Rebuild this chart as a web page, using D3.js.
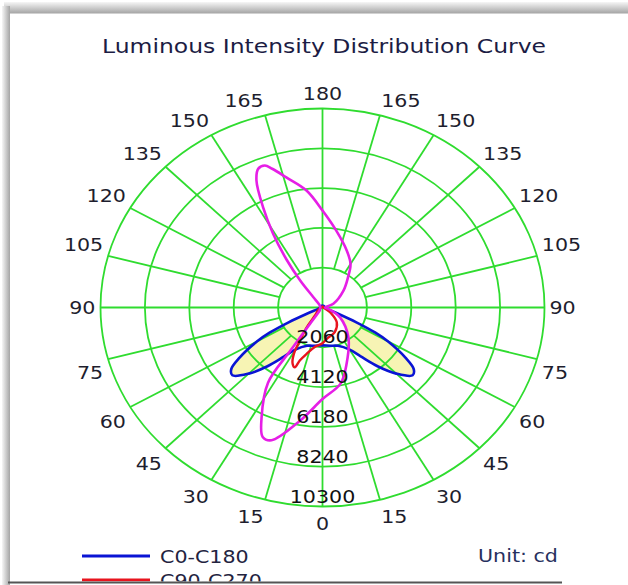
<!DOCTYPE html>
<html>
<head>
<meta charset="utf-8">
<script src="https://cdn.jsdelivr.net/npm/d3@7"></script>
<style>
  html, body { margin: 0; padding: 0; background: #fff; }
  svg { display: block; }
  text { font-family: "DejaVu Sans", Verdana, sans-serif; }
</style>
</head>
<body>
<svg id="chart" width="628" height="585"></svg>
<script>
// ---- data (intensities in cd) ----
const chartTitle = "Luminous Intensity Distribution Curve";
const unitLabel = "Unit: cd";
const ringValues = [2060, 4120, 6180, 8240, 10300];
const angleTicks = [0, 15, 30, 45, 60, 75, 90, 105, 120, 135, 150, 165, 180];

// C0-C180 plane: symmetric, gamma measured from nadir on each half
const c0Gamma  = [0, 10, 20, 30, 35, 40, 45, 50, 53, 56, 60, 62, 64, 66, 68, 72, 90, 120, 150, 180];
const c0Values = [1960, 2010, 2110, 2520, 3090, 3970, 4840, 5460, 5300, 4640, 3500, 2780, 1750, 820, 360, 150, 100, 100, 100, 100];

// C90-C270 plane: full turn, 0 = nadir, increasing towards the right half
const c90Angles = [0, 7, 24, 41, 52, 60, 90, 180, 270, 300, 320, 324.5, 328.5, 331, 334.5, 337.5, 339, 343, 350];
const c90Values = [1850, 1630, 1400, 1010, 540, 210, 50, 50, 50, 210, 540, 1260, 2000, 2740, 3220, 3350, 2940, 2510, 2080];

// Third plane (magenta trace), full turn
const c45Angles = [0, 12, 21, 38, 58, 75, 90, 111, 132, 143, 150, 159, 171, 180, 187, 194, 198, 200, 202.5, 205, 208, 211, 214, 216.5, 218.5, 225, 270, 320, 324, 325.5, 326.3, 327, 333.5, 337.5, 341, 350];
const c45Values = [4740, 4030, 3120, 1950, 960, 310, 120, 540, 1310, 1970, 2600, 3150, 4040, 5020, 6100, 6940, 7550, 7820, 7780, 7250, 5870, 4440, 2950, 1740, 680, 210, 100, 210, 410, 1030, 2680, 4640, 6330, 7250, 7270, 5940];

const legendItems = [
  { name: "C0-C180", color: "#0a14d4" },
  { name: "C90-C270", color: "#e8141e" }
];

// ---- layout ----
const svg = d3.select("#chart");
const cx = 322.5, cy = 307.5, rxMax = 222, ryMax = 199;
const stretch = rxMax / ryMax;
const fontFamily = '"DejaVu Sans", Verdana, sans-serif';

const rX = d3.scaleLinear().domain([0, d3.max(ringValues)]).range([0, rxMax]);
const rY = d3.scaleLinear().domain([0, d3.max(ringValues)]).range([0, ryMax]);
const toPoint = (deg, v) => {
  const t = deg * Math.PI / 180;
  return [cx + rX(v) * Math.sin(t), cy + rY(v) * Math.cos(t)];
};
const closedLine = d3.line().curve(d3.curveCatmullRomClosed.alpha(0.5));

// polygons
const c0Points = c0Gamma.map((g, i) => toPoint(g, c0Values[i]));
for (let i = c0Gamma.length - 2; i >= 1; i--) c0Points.push(toPoint(360 - c0Gamma[i], c0Values[i]));
const c90Points = c90Angles.map((a, i) => toPoint(a, c90Values[i]));
const c45Points = c45Angles.map((a, i) => toPoint(a, c45Values[i]));

// ---- frame shading ----
const defs = svg.append("defs");
const gTop = defs.append("linearGradient").attr("id", "shadeTop").attr("x1", 0).attr("y1", 0).attr("x2", 0).attr("y2", 1);
gTop.append("stop").attr("offset", "0%").attr("stop-color", "#f6f6f6");
gTop.append("stop").attr("offset", "100%").attr("stop-color", "#a4a4a4");
const gLeft = defs.append("linearGradient").attr("id", "shadeLeft").attr("x1", 0).attr("y1", 0).attr("x2", 1).attr("y2", 0);
gLeft.append("stop").attr("offset", "0%").attr("stop-color", "#f6f6f6");
gLeft.append("stop").attr("offset", "100%").attr("stop-color", "#a4a4a4");
defs.append("clipPath").attr("id", "pageClip")
  .append("rect").attr("x", 0).attr("y", 0).attr("width", 628).attr("height", 581.5);

svg.append("rect").attr("x", 4).attr("y", 2).attr("width", 624).attr("height", 11.5).attr("fill", "url(#shadeTop)");
svg.append("rect").attr("x", 2).attr("y", 6).attr("width", 8).attr("height", 579).attr("fill", "url(#shadeLeft)");

const page = svg.append("g").attr("clip-path", "url(#pageClip)");

// ---- title ----
page.append("text")
  .attr("x", 324).attr("y", 53)
  .attr("text-anchor", "middle")
  .attr("font-size", 19)
  .attr("textLength", 444).attr("lengthAdjust", "spacingAndGlyphs")
  .attr("fill", "#1c1c44")
  .text(chartTitle);

// ---- fills ----
page.append("path").attr("d", closedLine(c0Points)).attr("fill", "#f7f4b4").attr("stroke", "none");
page.append("path").attr("d", closedLine(c45Points)).attr("fill", "#fff").attr("stroke", "none");
page.append("path").attr("d", closedLine(c90Points)).attr("fill", "#fff").attr("stroke", "none");

// ---- grid ----
const gridColor = "#2fdc2f";
const grid = page.append("g").attr("fill", "none").attr("stroke", gridColor).attr("stroke-width", 1.8);
grid.selectAll("ellipse").data(ringValues).join("ellipse")
  .attr("cx", cx).attr("cy", cy)
  .attr("rx", d => rX(d)).attr("ry", d => rY(d));
const spokes = d3.range(0, 360, 15);
grid.selectAll("line").data(spokes).join("line")
  .each(function (a) {
    const inner = (a % 90 === 0) ? 0 : ringValues[0];
    const p0 = toPoint(a, inner), p1 = toPoint(a, d3.max(ringValues));
    d3.select(this).attr("x1", p0[0]).attr("y1", p0[1]).attr("x2", p1[0]).attr("y2", p1[1]);
  });

// ---- curves ----
page.append("path").attr("d", closedLine(c0Points)).attr("fill", "none").attr("stroke", legendItems[0].color).attr("stroke-width", 2.6);
page.append("path").attr("d", closedLine(c90Points)).attr("fill", "none").attr("stroke", legendItems[1].color).attr("stroke-width", 2.4);
page.append("path").attr("d", closedLine(c45Points)).attr("fill", "none").attr("stroke", "#e61ee6").attr("stroke-width", 2.6);

// ---- angle labels ----
const labelSize = 18.5;
const angleLabels = [];
angleTicks.forEach(g => {
  if (g === 0 || g === 180) angleLabels.push({ g, side: 0 });
  else { angleLabels.push({ g, side: -1 }); angleLabels.push({ g, side: 1 }); }
});
page.append("g").selectAll("text").data(angleLabels).join("text")
  .attr("font-size", labelSize)
  .attr("fill", "#1e1e2e")
  .attr("text-anchor", d => d.side === 0 ? "middle" : (d.side < 0 ? "end" : "start"))
  .attr("transform", d => {
    const t = d.g * Math.PI / 180;
    const x = cx + (d.side === 0 ? 0 : d.side * (rxMax + 5) * Math.sin(t));
    const c = Math.cos(t);
    let y = cy + (ryMax + 5) * c;
    if (c < -0.01) y -= 10; else if (c > 0.01) y += 12;
    return `translate(${x},${y + labelSize * 0.36}) scale(${stretch},1)`;
  })
  .text(d => d.g);

// ---- ring value labels ----
page.append("g").selectAll("text").data(ringValues).join("text")
  .attr("font-size", labelSize)
  .attr("fill", "#111")
  .attr("text-anchor", "middle")
  .attr("transform", d => `translate(${cx},${cy + rY(d) - 10.5 + labelSize * 0.36}) scale(${stretch},1)`)
  .text(d => d);

// ---- legend ----
const legend = page.append("g");
legendItems.forEach((item, i) => {
  const y = 556 + i * 24;
  legend.append("line").attr("x1", 82).attr("x2", 150).attr("y1", y).attr("y2", y)
    .attr("stroke", item.color).attr("stroke-width", 3);
  legend.append("text")
    .attr("font-size", labelSize).attr("fill", "#23233f")
    .attr("transform", `translate(160,${y + labelSize * 0.36}) scale(${stretch},1)`)
    .text(item.name);
});
page.append("text")
  .attr("font-size", labelSize).attr("fill", "#27305e")
  .attr("transform", `translate(478,${555 + labelSize * 0.36}) scale(${stretch},1)`)
  .text(unitLabel);

// bottom edge of the panel
svg.append("line").attr("x1", 8).attr("x2", 562).attr("y1", 582.5).attr("y2", 582.5)
  .attr("stroke", "#555").attr("stroke-width", 2);
</script>
</body>
</html>
